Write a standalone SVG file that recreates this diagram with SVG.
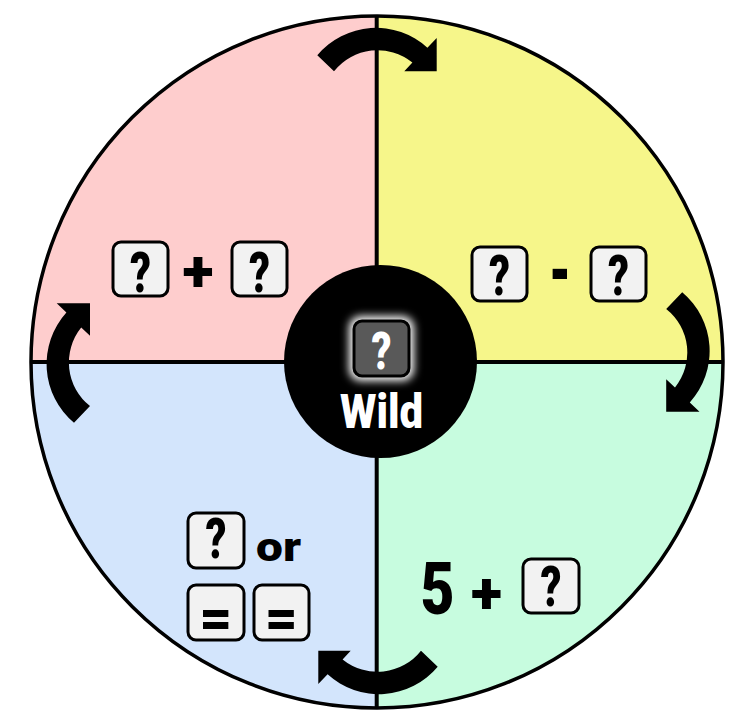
<svg xmlns="http://www.w3.org/2000/svg" width="742" height="725" viewBox="0 0 742 725">
<style>
.tile{fill:#f2f2f2;stroke:#000;stroke-width:3}
.t{font-family:Roboto,"Liberation Sans",sans-serif;font-weight:900;fill:#000;text-anchor:middle}
.q{font-size:56px}
.arrow{fill:#000}
.div{stroke:#000;stroke-width:4;fill:none}
</style>
<defs>
<filter id="glow" x="-50%" y="-50%" width="200%" height="200%"><feGaussianBlur stdDeviation="4"/></filter>
<path id="arr" d="M -59.4,-49.7 A 76.5 76.5 0 0 1 50.7,-57.3 L 60,-67 L 60,-33.7 L 27.6,-33.7 L 35.7,-42.5 A 55.5 55.5 0 0 0 -42.7,-33.7 Z"/>
</defs>
<g id="wheel">
<path d="M377,362 L31,362 A346 346 0 0 1 377,16 Z" fill="#fecdcd"/>
<path d="M377,362 L377,16 A346 346 0 0 1 723,362 Z" fill="#f6f68a"/>
<path d="M377,362 L723,362 A346 346 0 0 1 377,708 Z" fill="#c7fcdf"/>
<path d="M377,362 L377,708 A346 346 0 0 1 31,362 Z" fill="#d3e5fc"/>
</g>
<g id="connectors">
<line class="div" x1="376.7" y1="16" x2="376.7" y2="708"/>
<line class="div" x1="31" y1="362" x2="723" y2="362"/>
<use href="#arr" class="arrow" transform="translate(376.7,105)"/>
<use href="#arr" class="arrow" transform="translate(632.5,351.7) rotate(90)"/>
<use href="#arr" class="arrow" transform="translate(378.3,617) rotate(180)"/>
<use href="#arr" class="arrow" transform="translate(123.7,363.3) rotate(-90)"/>
</g>
<circle cx="377" cy="362" r="346" fill="none" stroke="#000" stroke-width="3.5"/>
<g id="add">
<rect class="tile" x="113" y="242" width="55" height="54" rx="8"/>
<text class="t q" x="140.5" y="292" textLength="21" lengthAdjust="spacingAndGlyphs">?</text>
<text class="t" x="198" y="291" font-size="58">+</text>
<rect class="tile" x="232" y="242" width="55" height="54" rx="8"/>
<text class="t q" x="259.5" y="292" textLength="21" lengthAdjust="spacingAndGlyphs">?</text>
</g>
<g id="subtract">
<rect class="tile" x="472" y="247" width="55" height="54" rx="8"/>
<text class="t q" x="499.5" y="295" textLength="21" lengthAdjust="spacingAndGlyphs">?</text>
<text class="t" x="560" y="298" font-size="80" textLength="22" lengthAdjust="spacingAndGlyphs">-</text>
<rect class="tile" x="591" y="247" width="55" height="54" rx="8"/>
<text class="t q" x="618.5" y="295" textLength="21" lengthAdjust="spacingAndGlyphs">?</text>
</g>
<g id="choice">
<rect class="tile" x="188" y="513" width="56" height="55" rx="8"/>
<text class="t q" x="216" y="558" textLength="21" lengthAdjust="spacingAndGlyphs">?</text>
<text class="t" x="278.5" y="560.5" font-size="40" textLength="45" lengthAdjust="spacingAndGlyphs">or</text>
<rect class="tile" x="188" y="585" width="56" height="55" rx="8"/>
<text class="t" x="216" y="637" font-size="56">=</text>
<rect class="tile" x="254" y="585" width="55" height="55" rx="8"/>
<text class="t" x="281.5" y="637" font-size="56">=</text>
</g>
<g id="five">
<text class="t" x="437.5" y="614" font-size="72" textLength="34" lengthAdjust="spacingAndGlyphs">5</text>
<text class="t" x="486.5" y="613" font-size="58">+</text>
<rect class="tile" x="523" y="559" width="56" height="54" rx="8"/>
<text class="t q" x="551" y="606" textLength="21" lengthAdjust="spacingAndGlyphs">?</text>
</g>
<g id="wild">
<circle cx="380.5" cy="361.5" r="96.5" fill="#000"/>
<rect x="349" y="316" width="65" height="65" rx="12" fill="#fff" filter="url(#glow)"/>
<rect x="354" y="321" width="55" height="55" rx="8" fill="#595959" stroke="#000" stroke-width="3"/>
<text class="t" x="381.5" y="369" font-size="52" textLength="20" lengthAdjust="spacingAndGlyphs" style="fill:#fff">?</text>
<text class="t" x="381.5" y="428" font-size="48" textLength="83" lengthAdjust="spacingAndGlyphs" style="fill:#fff">Wild</text>
</g>
</svg>
